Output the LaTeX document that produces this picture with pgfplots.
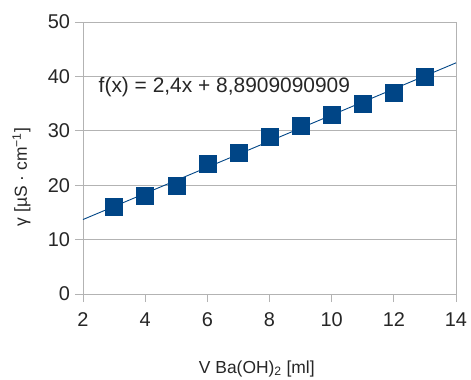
\documentclass[border=0pt]{standalone}
\usepackage{fontspec}
\setmainfont{Liberation Sans}
\usepackage{pgfplots}
\pgfplotsset{compat=1.18}
\definecolor{lobl}{HTML}{004586}
\definecolor{gridg}{HTML}{B3B3B3}
\begin{document}
\begin{tikzpicture}
\begin{axis}[
  scale only axis,
  width=373bp, height=272bp,
  xmin=2, xmax=14, ymin=0, ymax=50,
  xtick={2,4,...,14}, ytick={0,10,...,50},
  /pgf/number format/assume math mode=true,
  tick label style={font=\fontsize{20}{22}\selectfont, color=black!85},
  label style={font=\fontsize{17.5}{20}\selectfont, color=black!85},
  axis line style={gridg, line width=0.9pt},
  ymajorgrids, grid style={gridg, line width=0.9pt},
  tick style={gridg, line width=0.9pt},
  tick align=outside, major tick length=8bp,
  xtick pos=bottom, ytick pos=left,
  xlabel={V Ba(OH)\textsubscript{2} [ml]},
  ylabel={γ [µS · cm\textsuperscript{−1}]},
  xlabel style={at={(axis description cs:0.466,0)}, anchor=base, yshift=-79bp},
  ylabel style={at={(axis description cs:0,0.43)}, anchor=base, yshift=56bp},
  xticklabel style={yshift=-7bp},
  yticklabel style={xshift=-1.5bp},
]
\addplot[lobl, line width=0.9pt, no marks] coordinates {(2,13.69) (14,42.49)};
\addplot[only marks, mark=square*, mark size=8.5bp, mark options={fill=lobl, draw=lobl}] coordinates {
(3,16) (4,18) (5,20) (6,24) (7,26) (8,29) (9,31) (10,33) (11,35) (12,37) (13,40)};
\node[anchor=base west, font=\fontsize{21}{23}\selectfont, text=black!85, inner sep=0pt] at (axis cs:2.5,37.1) {f(x) = 2,4x + 8,8909090909};
\coordinate (sw) at (rel axis cs:0,0);
\coordinate (ne) at (rel axis cs:1,1);
\end{axis}
\pgfresetboundingbox
\path[use as bounding box] ([shift={(-83bp,-86bp)}]sw) rectangle ([shift={(15bp,22bp)}]ne);
\end{tikzpicture}
\end{document}
